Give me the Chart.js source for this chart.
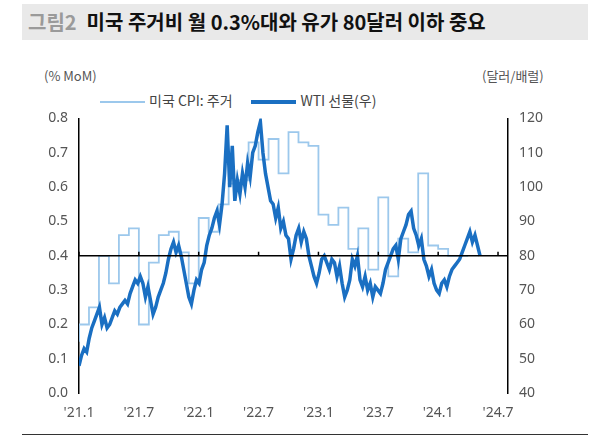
<!DOCTYPE html>
<html><head><meta charset="utf-8">
<script src="https://cdn.jsdelivr.net/npm/chart.js@4/dist/chart.umd.min.js"></script>
<style>
body{margin:0;width:590px;height:437px;background:#fff;font-family:"Noto Sans CJK KR","Noto Sans",sans-serif;position:relative;overflow:hidden}
#title{position:absolute;left:22px;top:4px;width:566px;height:36px;background:#e9e9e9;font-size:20px;font-weight:bold;line-height:36px;color:#111}
#title span{color:#9a9a9a;margin-left:6px;margin-right:10px}
.ax{position:absolute;top:66px;font-size:13px;color:#555}
#leg{position:absolute;top:90px;left:100px;font-size:14px;color:#444}
#leg i{display:inline-block;vertical-align:middle;width:45px;margin-right:4px}
#wrap{position:absolute;left:30px;top:107px;width:530px;height:317px}
#bot{position:absolute;left:22px;top:434px;width:566px;height:1px;background:#333}
</style></head><body>
<div id="title"><span>그림2</span>미국 주거비 월 0.3%대와 유가 80달러 이하 중요</div>
<div class="ax" style="left:44px">(% MoM)</div>
<div class="ax" style="left:482px">(달러/배럴)</div>
<div id="leg"><i style="border-top:2px solid #9cc8ec"></i>미국 CPI: 주거 &nbsp;&nbsp;&nbsp;&nbsp;&nbsp;<i style="border-top:4px solid #1a6fc2"></i>WTI 선물(우)</div>
<div id="wrap"><canvas id="c"></canvas></div>
<div id="bot"></div>
<script>
const tickLabels=["'21.1","'21.7","'22.1","'22.7","'23.1","'23.7","'24.1","'24.7"];
const cpiShelter=[0.15,0.2,0.25,0.4,0.32,0.46,0.48,0.2,0.38,0.46,0.47,0.41,0.32,0.51,0.47,0.55,0.61,0.62,0.73,0.68,0.74,0.64,0.76,0.73,0.72,0.52,0.49,0.54,0.42,0.48,0.36,0.57,0.34,0.45,0.41,0.64,0.43,0.42,0.4,0.4];
const wti=[48,51,53,52,56,59,61,63,65,60,62,59,60,62,64,63,65,66,67,66,69,71,73,72,74,72,68,71,67,63,65,68,70,72,75,79,82,84,81,83,80,76,72,68,66,70,73,72,76,78,83,86,88,91,93,89,95,104,118,100,112,96,102,98,104,100,107,103,110,112,116,119,110,104,100,96,95,91,94,88,90,86,85,79,82,86,88,84,87,85,80,77,74,72,75,79,80,78,76,79,78,74,77,72,68,70,73,79,77,80,73,71,74,70,72,68,71,70,69,72,76,78,80,82,83,79,85,87,89,92,93,88,86,83,85,79,77,74,76,72,70,69,72,73,71,74,76,77,78,79,81,83,85,87,84,86,83,80];
const cpiPts=cpiShelter.map((v,i)=>({x:i,y:v}));
const wtiPts=wti.map((v,i)=>({x:i*40.2/(wti.length-1),y:v}));
const refLine={id:'ref',afterDatasetsDraw(ch){const {ctx,scales:{x,y}}=ch;const yy=y.getPixelForValue(0.4);ctx.save();ctx.strokeStyle='#000';ctx.lineWidth=1.5;ctx.beginPath();ctx.moveTo(x.left,yy);ctx.lineTo(x.right,yy);for(let m=0;m<=42;m+=6){const px=x.getPixelForValue(m);ctx.moveTo(px,yy);ctx.lineTo(px,yy-4);}ctx.stroke();ctx.restore();}};
new Chart(document.getElementById('c'),{type:'line',
data:{datasets:[
{label:'WTI',data:wtiPts,yAxisID:'y2',borderColor:'#1a6fc2',borderWidth:3.5,pointRadius:0,tension:0},
{label:'CPI',data:cpiPts,yAxisID:'y',borderColor:'#9cc8ec',borderWidth:1.8,pointRadius:0,stepped:'after'}]},
options:{responsive:true,maintainAspectRatio:false,animation:false,
layout:{padding:{top:8,right:0,left:0,bottom:0}},
plugins:{legend:{display:false},tooltip:{enabled:false}},
scales:{
x:{type:'linear',min:0,max:43,grid:{display:false},border:{display:false},
 afterBuildTicks(a){a.ticks=[0,6,12,18,24,30,36,42].map(v=>({value:v}));},
 ticks:{callback:(v)=>tickLabels[v/6],color:'#555',font:{size:14,family:'Noto Sans'},maxRotation:0,autoSkip:false}},
y:{position:'left',min:0,max:0.8,afterFit(a){a.width=49;},grid:{display:false,drawTicks:true},border:{display:true,color:'#000',width:1.5},
 ticks:{stepSize:0.1,color:'#555',font:{size:14,family:'Noto Sans'},callback:v=>v.toFixed(1)}},
y2:{position:'right',min:40,max:120,afterFit(a){a.width=52;},grid:{display:false},border:{display:true,color:'#000',width:1.5},
 ticks:{stepSize:10,color:'#555',font:{size:14,family:'Noto Sans'}}}
}},plugins:[refLine]});
</script></body></html>
